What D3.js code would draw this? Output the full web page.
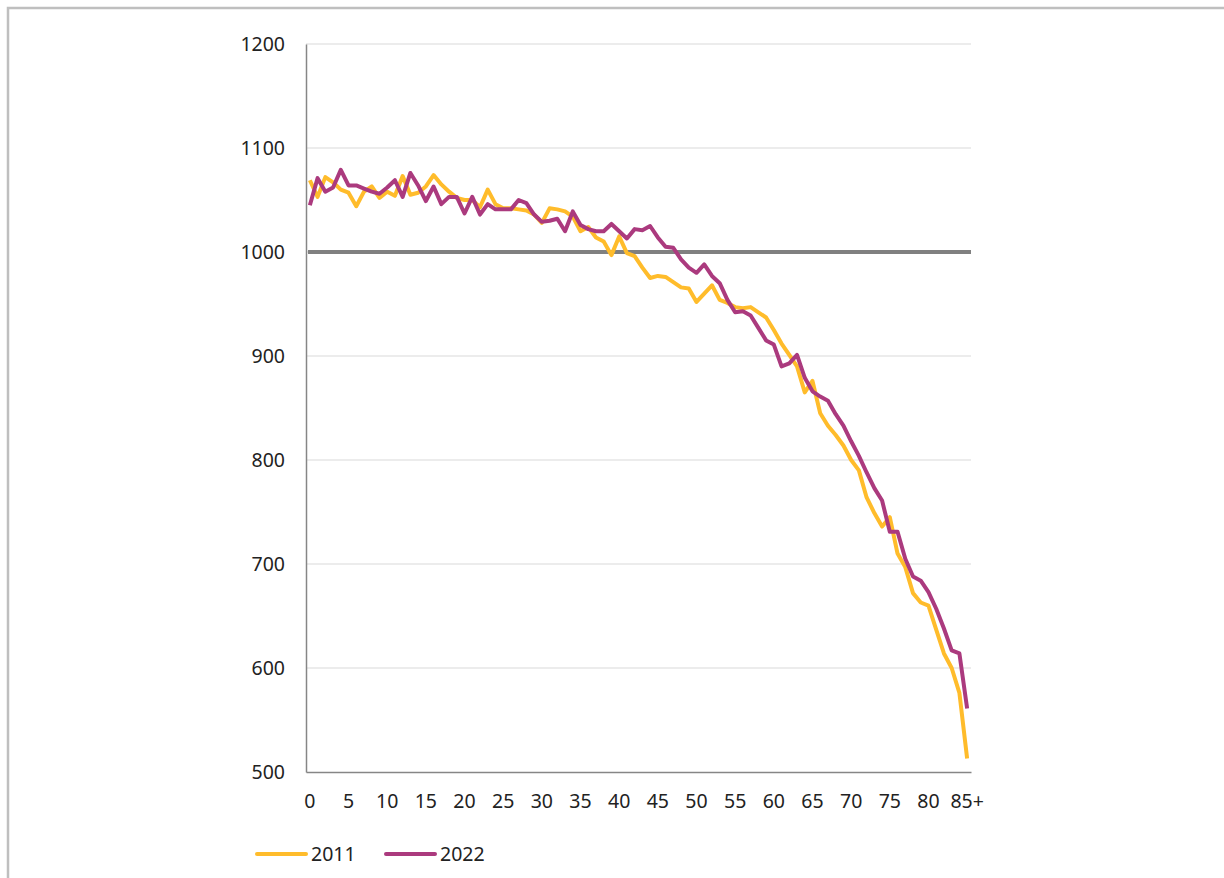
<!DOCTYPE html>
<html>
<head>
<meta charset="utf-8">
<script src="https://cdn.jsdelivr.net/npm/d3@7"></script>
<style>
  html, body { margin: 0; padding: 0; background: #fff; }
  svg { display: block; }
  text { font-family: "Noto Sans", "Open Sans", sans-serif; fill: #222; }
</style>
</head>
<body>
<svg id="chart" width="1224" height="878"></svg>
<script>
const ages = d3.range(0, 86).map(a => a === 85 ? "85+" : String(a));
const tickLabels = ["0","5","10","15","20","25","30","35","40","45","50","55","60","65","70","75","80","85+"];
const yTicks = [500, 600, 700, 800, 900, 1000, 1100, 1200];
const referenceLine = 1000;
const seriesNames = ["2011", "2022"];

const values2011 = [1069,1053,1072,1067,1060,1057,1044,1058,1063,1052,
  1058,1054,1073,1055,1057,1063,1074,1065,1058,1052,
  1050,1050,1043,1060,1046,1042,1042,1041,1040,1036,
  1028,1042,1041,1039,1034,1020,1024,1014,1010,997,
  1015,999,996,985,975,977,976,971,966,965,
  952,960,968,954,951,947,946,947,942,937,
  925,912,901,890,865,876,845,833,824,814,
  800,790,764,749,736,745,710,697,672,663,
  660,637,614,600,576,513];

const values2022 = [1045,1071,1058,1062,1079,1064,1064,1061,1058,1056,
  1062,1069,1053,1076,1064,1049,1063,1046,1053,1053,
  1037,1053,1036,1046,1041,1041,1041,1050,1047,1036,
  1029,1030,1032,1020,1039,1026,1022,1020,1020,1027,
  1020,1013,1022,1021,1025,1014,1005,1004,993,985,
  980,988,977,970,954,942,943,939,927,915,
  911,890,893,901,879,866,861,857,844,833,
  818,804,788,773,761,731,731,705,688,684,
  673,657,638,617,614,561];

const colors = { "2011": "#FFBC2B", "2022": "#AB3A7E" };

const svg = d3.select("#chart");

// outer frame
svg.append("rect")
  .attr("x", 8).attr("y", 8)
  .attr("width", 1240).attr("height", 900)
  .attr("fill", "none").attr("stroke", "#BFBFBF").attr("stroke-width", 2.5);

const plotLeft = 306, plotRight = 971, plotTop = 44, plotBottom = 772;

const x = d3.scaleBand().domain(ages).range([plotLeft, plotRight]).padding(0);
const y = d3.scaleLinear().domain([500, 1200]).range([plotBottom, plotTop]);
const cx = a => x(a) + x.bandwidth() / 2;

// gridlines
svg.append("g")
  .selectAll("line")
  .data(yTicks.filter(v => v !== 500))
  .join("line")
  .attr("x1", plotLeft).attr("x2", plotRight)
  .attr("y1", d => y(d)).attr("y2", d => y(d))
  .attr("stroke", "#D9D9D9").attr("stroke-width", 1.2);

// y axis
const yAxis = d3.axisLeft(y).tickValues(yTicks).tickFormat(d3.format("d")).tickSize(0).tickPadding(21);
const gy = svg.append("g").attr("transform", `translate(${plotLeft},0)`).call(yAxis);
gy.select(".domain").attr("stroke", "#868686").attr("stroke-width", 1.5);
gy.selectAll("text").style("font-size", "19.5px").attr("fill", "#222");

// x axis
const xAxis = d3.axisBottom(x).tickValues(tickLabels).tickSize(0).tickPadding(22);
const gx = svg.append("g").attr("transform", `translate(0,${plotBottom})`).call(xAxis);
gx.select(".domain").attr("stroke", "#868686").attr("stroke-width", 1.5);
gx.selectAll("text").style("font-size", "19.5px").attr("fill", "#222");

// reference line at 1000
svg.append("line")
  .attr("x1", plotLeft + 2).attr("x2", plotRight)
  .attr("y1", y(referenceLine)).attr("y2", y(referenceLine))
  .attr("stroke", "#808080").attr("stroke-width", 4);

// series lines
const line = d3.line().x((d, i) => cx(ages[i])).y(d => y(d));
const seriesData = { "2011": values2011, "2022": values2022 };
seriesNames.forEach(name => {
  svg.append("path")
    .datum(seriesData[name])
    .attr("d", line)
    .attr("fill", "none")
    .attr("stroke", colors[name])
    .attr("stroke-width", 4)
    .attr("stroke-linejoin", "round");
});

// legend
const legendY = 854;
const legendItems = [
  { name: "2011", x1: 257, x2: 306, tx: 311 },
  { name: "2022", x1: 386, x2: 435, tx: 440 }
];
const lg = svg.append("g");
legendItems.forEach(it => {
  lg.append("line")
    .attr("x1", it.x1).attr("x2", it.x2)
    .attr("y1", legendY).attr("y2", legendY)
    .attr("stroke", colors[it.name]).attr("stroke-width", 4)
    .attr("stroke-linecap", "round");
  lg.append("text")
    .attr("x", it.tx).attr("y", legendY)
    .attr("dy", "0.35em")
    .style("font-size", "19.5px")
    .text(it.name);
});
</script>
</body>
</html>
